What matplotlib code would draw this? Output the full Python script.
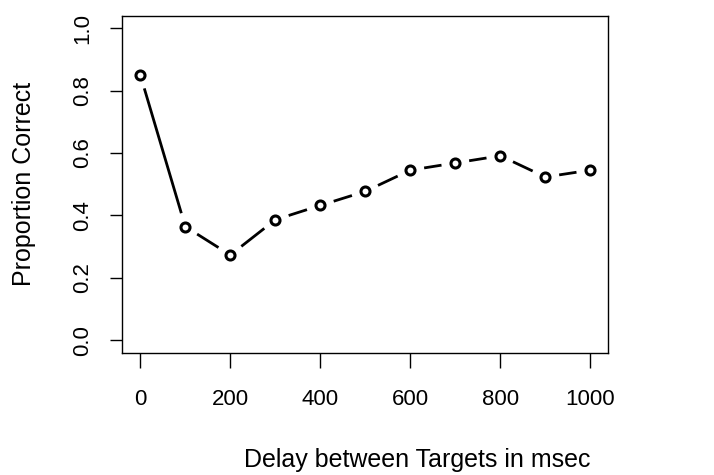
import matplotlib
matplotlib.use("Agg")
import matplotlib.pyplot as plt
import numpy as np

plt.rcParams["font.family"] = ["Liberation Sans", "DejaVu Sans"]

delay = [0, 100, 200, 300, 400, 500, 600, 700, 800, 900, 1000]
prop_correct = [0.85, 0.364, 0.273, 0.386, 0.432, 0.477, 0.545, 0.568, 0.591, 0.523, 0.545]
x_ticks = [0, 200, 400, 600, 800, 1000]
y_ticks = [0.0, 0.2, 0.4, 0.6, 0.8, 1.0]

fig = plt.figure(figsize=(7.14, 4.75), dpi=100)
ax = fig.add_axes([0.1713, 0.2575, 0.6807, 0.7095])
ax.set_xlim(-40, 1040)
ax.set_ylim(-0.04, 1.04)

# R type="b": segments stop short of each point
gap = 14.0  # pixels
pts = ax.transData.transform(np.column_stack([delay, prop_correct]))
inv = ax.transData.inverted()
for p0, p1 in zip(pts[:-1], pts[1:]):
    d = p1 - p0
    n = np.hypot(*d)
    if n <= 2 * gap:
        continue
    u = d / n
    a = inv.transform(p0 + u * gap)
    b = inv.transform(p1 - u * gap)
    ax.plot([a[0], b[0]], [a[1], b[1]], color="black", lw=2, solid_capstyle="butt")

ax.plot(delay, prop_correct, linestyle="none", marker="o", ms=6.5, mew=2.2,
        mfc="none", mec="black")

ax.set_xticks(x_ticks)
ax.set_xticklabels([str(v) for v in x_ticks])
ax.set_yticks(y_ticks)
ax.set_yticklabels([f"{v:.1f}" for v in y_ticks], rotation=90, va="center")
ax.tick_params(axis="both", width=1, labelsize=16, direction="out")
ax.tick_params(axis="x", length=11, pad=15.5)
ax.tick_params(axis="y", length=9, pad=12)
for s in ax.spines.values():
    s.set_linewidth(1)

ax.set_xlabel("Delay between Targets in msec", fontsize=18, va="baseline")
ax.xaxis.set_label_coords(0.606, -0.339)
ax.set_ylabel("Proportion Correct", fontsize=18, va="center")
ax.yaxis.set_label_coords(-0.202, 0.5)

fig.savefig("out.png", dpi=100)
